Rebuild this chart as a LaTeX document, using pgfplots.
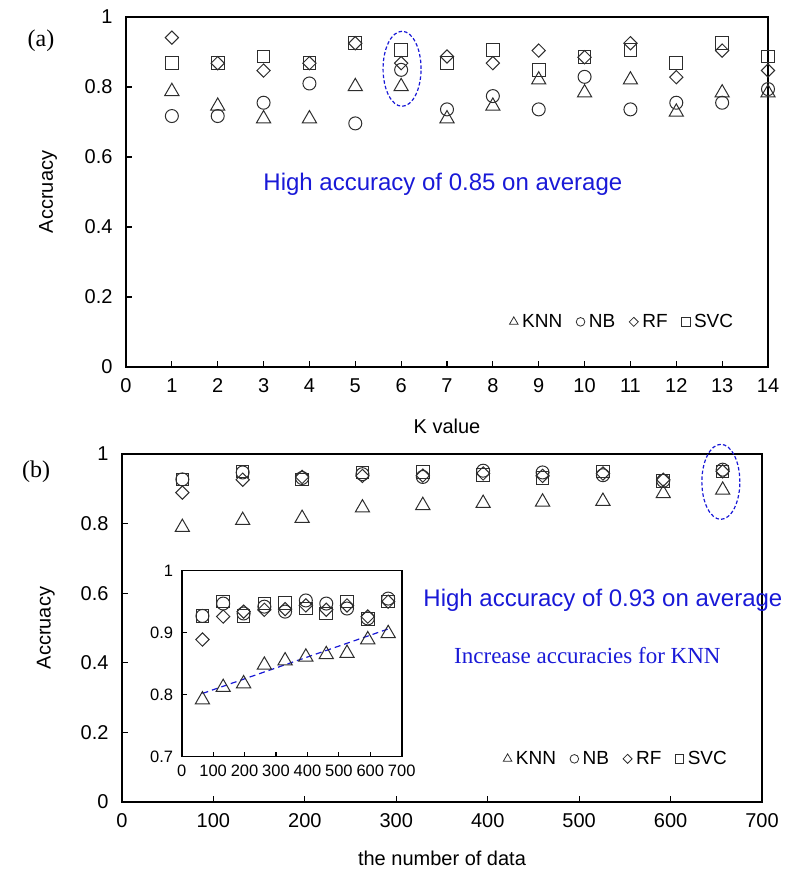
\documentclass[border=0pt]{standalone}
\usepackage{pgfplots}
\pgfplotsset{compat=1.18}
\usepackage{pgfplotstable}
\usepackage{fontspec}
\setmainfont{Liberation Sans}
\newfontfamily\seriffont{Liberation Serif}
\definecolor{mk}{RGB}{45,45,45}
\definecolor{annblue}{RGB}{25,25,215}

\pgfplotstableread{
K KNN NB RF SVC
1 0.793 0.717 0.941 0.868
2 0.751 0.717 0.868 0.868
3 0.715 0.755 0.847 0.887
4 0.715 0.810 0.868 0.868
5 0.807 0.696 0.925 0.925
6 0.807 0.849 0.868 0.906
7 0.715 0.736 0.887 0.868
8 0.751 0.774 0.868 0.906
9 0.826 0.736 0.904 0.849
10 0.789 0.829 0.885 0.885
11 0.826 0.736 0.925 0.906
12 0.734 0.755 0.828 0.868
13 0.789 0.755 0.904 0.925
14 0.789 0.794 0.847 0.887
}\tabK

\pgfplotstableread{
N KNN NB RF SVC
66 0.795 0.927 0.889 0.927
132 0.815 0.947 0.926 0.950
197 0.821 0.931 0.934 0.927
263 0.851 0.942 0.937 0.947
329 0.858 0.934 0.938 0.948
395 0.864 0.952 0.944 0.939
460 0.868 0.947 0.937 0.931
526 0.870 0.939 0.944 0.950
592 0.892 0.923 0.926 0.922
657 0.902 0.955 0.950 0.950
}\tabN

\pgfplotsset{
  myaxis/.style={
    scale only axis,
    axis line style={line width=1.6pt, black},
    tick align=inside, major tick length=6pt,
    tick style={line width=1.2pt, black},
    xtick pos=bottom, ytick pos=left,
    /pgf/number format/assume math mode=true,
    tick label style={font=\fontsize{20}{23}\selectfont, black},
    yticklabel style={xshift=-10pt},
    xticklabel style={yshift=-8pt},
    label style={font=\fontsize{20}{23}\selectfont},
    legend style={draw=none, fill=none, font=\fontsize{19}{21}\selectfont,
      /tikz/every even column/.append style={column sep=12pt},
      /tikz/every odd column/.append style={column sep=2pt}},
    legend columns=4,
    legend image code/.code={\draw[#1] plot coordinates {(0.12cm,0cm)};},
    ymin=0, ymax=1, ytick={0,0.2,0.4,0.6,0.8,1},
  },
  knn/.style={only marks, color=mk, line width=1pt, mark=triangle, mark size=8.2pt, mark options={yshift=-2pt}},
  nb/.style={only marks, color=mk, line width=1pt, mark=o, mark size=6.5pt},
  rf/.style={only marks, color=mk, line width=1pt, mark=square, mark size=4.7pt, mark options={rotate=45}},
  svc/.style={only marks, color=mk, line width=1pt, mark=square, mark size=6.3pt},
  legk/.style={only marks, color=mk, line width=0.8pt, mark=triangle, mark size=5pt},
  legn/.style={only marks, color=mk, line width=0.8pt, mark=o, mark size=4.3pt},
  legr/.style={only marks, color=mk, line width=0.8pt, mark=square, mark size=3.2pt, mark options={rotate=45}},
  legs/.style={only marks, color=mk, line width=0.8pt, mark=square, mark size=4.2pt},
}

\begin{document}
\begin{tikzpicture}
\useasboundingbox (0,0) rectangle (784pt,872pt);

% ---------- (a) ----------
\begin{axis}[myaxis,
  at={(126pt,505pt)}, anchor=south west,
  width=642pt, height=350pt,
  xmin=0, xmax=14, xtick={0,1,...,14},
  xlabel={K value}, ylabel={Accruacy},
  xlabel style={at={(axis description cs:0.5,-0.171)}, anchor=center},
  ylabel style={at={(axis description cs:-0.1215,0.5)}, anchor=center},
  legend style={at={(rel axis cs:0.773,0.129)}, anchor=center},
]
\addlegendimage{legk}\addlegendentry{KNN}
\addlegendimage{legn}\addlegendentry{NB}
\addlegendimage{legr}\addlegendentry{RF}
\addlegendimage{legs}\addlegendentry{SVC}
\addplot[svc, forget plot] table[x=K, y=SVC] {\tabK};
\addplot[rf, forget plot] table[x=K, y=RF] {\tabK};
\addplot[nb, forget plot] table[x=K, y=NB] {\tabK};
\addplot[knn, forget plot] table[x=K, y=KNN] {\tabK};
\draw[annblue, line width=1.2pt, dash pattern=on 3.5pt off 2.2pt] (axis cs:6.02,0.852) ellipse [x radius=19pt, y radius=37.5pt];
\node[annblue, font=\fontsize{24}{28}\selectfont] at (axis cs:6.91,0.523) {High accuracy of 0.85 on average};
\end{axis}

% ---------- (b) ----------
\begin{axis}[myaxis,
  at={(122pt,70pt)}, anchor=south west,
  width=640pt, height=348pt,
  xmin=0, xmax=700, xtick={0,100,...,700},
  xlabel={the number of data}, ylabel={Accruacy},
  xlabel style={at={(axis description cs:0.5,-0.161)}, anchor=center},
  ylabel style={at={(axis description cs:-0.119,0.5)}, anchor=center},
  legend style={at={(rel axis cs:0.772,0.124)}, anchor=center},
  clip=false,
]
\addlegendimage{legk}\addlegendentry{KNN}
\addlegendimage{legn}\addlegendentry{NB}
\addlegendimage{legr}\addlegendentry{RF}
\addlegendimage{legs}\addlegendentry{SVC}
\addplot[svc, forget plot] table[x=N, y=SVC] {\tabN};
\addplot[rf, forget plot] table[x=N, y=RF] {\tabN};
\addplot[nb, forget plot] table[x=N, y=NB] {\tabN};
\addplot[knn, forget plot] table[x=N, y=KNN] {\tabN};
\draw[annblue, line width=1.2pt, dash pattern=on 3.5pt off 2.2pt] (axis cs:655,0.92) ellipse [x radius=19pt, y radius=37.5pt];
\node[annblue, font=\fontsize{24}{28}\selectfont] at (axis cs:526,0.58) {High accuracy of 0.93 on average};
\node[annblue, font=\seriffont\fontsize{23}{26}\selectfont] at (axis cs:509,0.422) {Increase accuracies for KNN};
\end{axis}

% ---------- inset ----------
\begin{axis}[
  scale only axis,
  at={(181.7pt,115.3pt)}, anchor=south west,
  width=220pt, height=186pt,
  axis background/.style={fill=white},
  axis line style={line width=1.6pt, black},
  tick align=inside, major tick length=5pt,
  tick style={line width=1.2pt, black},
  xtick pos=bottom, ytick pos=left,
  /pgf/number format/assume math mode=true,
  tick label style={font=\fontsize{16.5}{18}\selectfont, black},
  yticklabel style={xshift=-5pt},
  xticklabel style={yshift=-5pt},
  xmin=0, xmax=700, xtick={0,100,...,700},
  ymin=0.7, ymax=1, ytick={0.7,0.8,0.9,1},
]
\addplot[svc] table[x=N, y=SVC] {\tabN};
\addplot[rf] table[x=N, y=RF] {\tabN};
\addplot[nb] table[x=N, y=NB] {\tabN};
\addplot[knn] table[x=N, y=KNN] {\tabN};
\addplot[annblue, line width=1.2pt, dash pattern=on 6pt off 4pt, no marks] coordinates {(66,0.802) (657,0.906)};
\end{axis}

\node[font=\seriffont\fontsize{24}{28}\selectfont] at (41pt,831pt) {(a)};
\node[font=\seriffont\fontsize{24}{28}\selectfont] at (36pt,400pt) {(b)};
\end{tikzpicture}
\end{document}
